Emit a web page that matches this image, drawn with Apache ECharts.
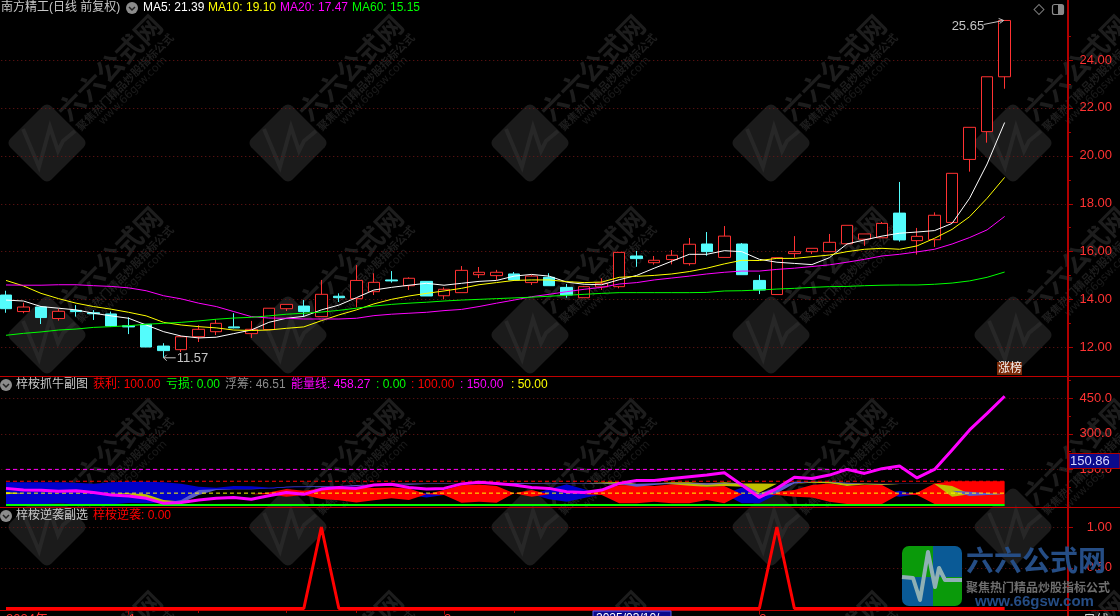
<!DOCTYPE html>
<html><head><meta charset="utf-8">
<style>html,body{margin:0;padding:0;background:#000;overflow:hidden}#c{width:1120px;height:616px}</style>
<script src="https://cdn.jsdelivr.net/npm/echarts@6/dist/echarts.min.js"></script>
</head><body><div id="c"></div>
<script>
const dates=['2024/12/23','2024/12/24','2024/12/25','2024/12/26','2024/12/27','2024/12/30','2024/12/31',
'2025/01/02','2025/01/03','2025/01/06','2025/01/07','2025/01/08','2025/01/09','2025/01/10','2025/01/13','2025/01/14','2025/01/15','2025/01/16','2025/01/17','2025/01/20','2025/01/21','2025/01/22','2025/01/23','2025/01/24','2025/01/27',
'2025/02/05','2025/02/06','2025/02/07','2025/02/10','2025/02/11','2025/02/12','2025/02/13','2025/02/14','2025/02/17','2025/02/18','2025/02/19','2025/02/20','2025/02/21','2025/02/24','2025/02/25','2025/02/26','2025/02/27','2025/02/28',
'2025/03/03','2025/03/04','2025/03/05','2025/03/06','2025/03/07','2025/03/10','2025/03/11','2025/03/12','2025/03/13','2025/03/14','2025/03/17','2025/03/18','2025/03/19','2025/03/20','2025/03/21'];
const blankSlots=[' ','  ','   '];
const xLabelAt=[0,7,25,43];
const xLabelText=['2024年','1','2','3'];
const xMinorAt=[11,16,20,29];
// [open, close, low, high]
const candles=[
[14.19,13.62,13.45,14.37],[13.50,13.69,13.43,13.87],[13.69,13.25,12.98,13.69],[13.21,13.51,13.12,13.62],
[13.55,13.50,13.29,13.77],[13.45,13.41,13.15,13.56],[13.40,12.90,12.87,13.50],[12.91,12.86,12.56,13.26],
[12.97,12.02,12.02,12.97],[12.06,11.87,11.57,12.18],[11.91,12.45,11.81,12.48],[12.45,12.76,12.23,12.93],
[12.66,13.01,12.52,13.18],[12.86,12.82,12.80,13.43],[12.58,12.76,12.40,13.11],[12.75,13.64,12.75,13.64],
[13.62,13.80,13.52,13.80],[13.73,13.50,13.29,13.98],[13.29,14.22,13.29,14.82],[14.14,14.08,13.90,14.26],
[14.04,14.80,13.68,15.44],[14.33,14.72,14.19,15.10],[14.82,14.78,14.71,15.19],[14.58,14.89,14.40,14.93],
[14.76,14.15,14.15,14.76],[14.16,14.43,14.01,14.51],[14.29,15.22,14.29,15.40],[15.04,15.14,14.90,15.36],
[15.00,15.14,14.82,15.24],[15.07,14.82,14.82,15.15],[14.71,14.98,14.61,15.03],[14.93,14.58,14.58,15.10],
[14.51,14.19,14.08,14.65],[14.08,14.54,14.08,14.57],[14.53,14.68,14.40,14.89],[14.54,15.97,14.47,15.97],
[15.82,15.71,15.37,16.03],[15.54,15.64,15.46,15.82],[15.67,15.85,15.47,16.07],[15.50,16.31,15.42,16.57],
[16.32,16.00,15.83,16.82],[15.76,16.65,15.76,17.07],[16.32,15.04,15.04,16.36],[14.80,14.40,14.23,15.03],
[14.21,15.75,14.21,15.75],[15.92,16.00,15.74,16.65],[16.00,16.14,15.90,16.14],[16.00,16.39,16.00,16.74],
[16.33,17.10,16.33,17.10],[16.52,16.74,16.24,16.74],[16.58,17.18,16.58,17.24],[17.61,16.49,16.42,18.91],
[16.46,16.64,15.88,16.99],[16.50,17.52,16.20,17.64],[17.22,19.27,17.22,19.27],[19.85,21.19,19.34,21.19],
[21.01,23.30,20.55,23.30],[23.30,25.65,22.80,25.65]];
const ma5=[13.98,13.94,13.71,13.64,13.57,13.43,13.32,13.22,12.94,12.66,12.48,12.40,12.43,12.58,12.73,13.05,13.22,13.30,13.57,13.77,14.08,
14.40,14.51,14.60,14.68,14.60,14.68,14.76,14.80,14.98,15.05,14.98,14.73,14.64,14.62,14.83,15.01,15.31,15.60,15.89,15.89,16.04,
16.00,15.68,15.56,15.51,15.46,15.75,16.32,16.49,16.65,16.77,16.82,16.88,17.18,18.23,19.66,21.39];
const ma10=[14.80,14.57,14.26,14.04,13.85,13.71,13.60,13.47,13.32,13.05,12.94,12.87,12.82,12.73,12.71,12.73,12.80,12.86,13.12,13.36,13.57,
13.82,14.01,14.15,14.26,14.36,14.47,14.62,14.71,14.80,14.82,14.82,14.75,14.71,14.73,14.93,14.97,15.01,15.07,15.17,15.31,15.49,
15.64,15.63,15.72,15.72,15.79,15.86,16.00,16.10,16.14,16.10,16.24,16.56,16.93,17.46,18.23,19.10];
const ma20=[14.61,14.60,14.60,14.62,14.62,14.58,14.55,14.49,14.37,14.16,14.03,13.85,13.71,13.50,13.29,13.23,13.22,13.19,13.19,13.19,13.22,
13.33,13.39,13.43,13.47,13.54,13.59,13.71,13.85,13.98,14.12,14.22,14.33,14.43,14.51,14.65,14.71,14.82,14.90,14.98,15.07,15.14,
15.19,15.19,15.26,15.31,15.38,15.45,15.56,15.68,15.82,15.89,15.99,16.10,16.32,16.59,16.91,17.47];
const ma60=[12.51,12.59,12.65,12.73,12.77,12.84,12.87,12.91,12.97,13.01,13.05,13.11,13.18,13.23,13.26,13.32,13.39,13.43,13.48,13.55,13.64,
13.73,13.80,13.85,13.89,13.94,13.98,14.01,14.04,14.07,14.10,14.14,14.18,14.22,14.26,14.29,14.29,14.29,14.29,14.29,14.30,14.36,
14.37,14.40,14.44,14.47,14.51,14.54,14.55,14.58,14.60,14.61,14.61,14.64,14.69,14.78,14.93,15.15];
const energy=[70,63,62,58,60,53,42,38,28,7,11,21,28,32,24,39,53,45,67,74,70,84,
87,74,67,70,89,96,91,84,74,70,56,53,63,91,103,103,112,119,126,136,
84,32,70,117,112,126,150,133,153,164,114,150,232,316,386,458];
const blueLo=[3,3,3,7,3,3,3,8,7,8,14,63,63,66,66,70,74,75,76,76,78,80,85,42,32,42,42,42,42,42,45,24,14,30,45,45,45,45,45,45,45,45,7,7,45,45,45,45,45,45,45,35,45,45,45,45,45,45];
const blueHi=[96,96,96,96,94,90,96,98,98,96,90,77,73,80,79,74,77,77,78,78,80,82,85,42,52,42,42,42,42,42,45,66,87,66,45,45,45,45,45,45,45,45,74,45,45,45,45,45,45,45,45,60,45,45,45,45,45,45];
const redLo=[45,45,45,45,45,45,45,45,45,45,45,45,45,45,45,45,35,42,25,20,11,20,28,21,45,42,10,14,10,49,35,45,45,45,42,7,7,14,7,7,21,7,45,45,42,35,32,14,4,4,4,45,42,4,4,4,4,4];
const redHi=[45,45,45,45,45,45,45,45,45,45,45,45,45,45,45,53,67,60,70,73,77,72,74,70,45,63,83,86,80,49,63,45,45,45,63,83,84,80,87,87,77,80,45,45,56,63,84,91,80,84,84,45,52,91,100,100,100,100];
const oliveLo=[45,50,50,50,50,50,50,45,25,11,15,15,15,15,15,15,15,15,15,15,15,15,15,15,15,15,15,15,15,15,15,15,15,91,91,84,91,91,87,81,77,80,77,52,90,90,94,92,80,86,84,88,88,88,35,45,42,45];
const oliveHi=[55,50,50,50,50,50,50,49,45,21,15,15,15,15,15,15,15,15,15,15,15,15,15,15,15,15,15,15,15,15,15,15,15,91,95,97,91,91,96,96,91,96,91,91,90,90,98,98,91,91,88,88,88,90,80,46,47,46];
const slateLo=[10,10,10,10,10,10,10,10,10,8,7,42,63,66,66,68,75,77,77,78,80,84,88,85,88,88,89,91,88,88,90,90,90,90,90,88,77,84,90,90,85,90,90,32,49,91,97,97,90,88,87,88,88,89,60,38,42,38];
const slateHi=[10,10,10,10,10,10,10,10,10,8,21,63,66,67,67,70,77,79,80,80,84,86,91,91,91,91,91,93,93,93,93,92,92,92,92,92,90,92,92,92,92,92,92,49,74,98,98,98,94,90,89,90,90,90,60,56,49,46];
const level0=[0,0,0,0,0,0,0,0,0,0,0,0,0,0,0,0,0,0,0,0,0,0,0,0,0,0,0,0,0,0,0,0,0,0,0,0,0,0,0,0,0,0,0,0,0,0,0,0,0,0,0,0,0,0,0,0,0,0];
const level100=[100,100,100,100,100,100,100,100,100,100,100,100,100,100,100,100,100,100,100,100,100,100,100,100,100,100,100,100,100,100,100,100,100,100,100,100,100,100,100,100,100,100,100,100,100,100,100,100,100,100,100,100,100,100,100,100,100,100];
const level150=[150,150,150,150,150,150,150,150,150,150,150,150,150,150,150,150,150,150,150,150,150,150,150,150,150,150,150,150,150,150,150,150,150,150,150,150,150,150,150,150,150,150,150,150,150,150,150,150,150,150,150,150,150,150,150,150,150,150];
const level50=[50,50,50,50,50,50,50,50,50,50,50,50,50,50,50,50,50,50,50,50,50,50,50,50,50,50,50,50,50,50,50,50,50,50,50,50,50,50,50,50,50,50,50,50,50,50,50,50,50,50,50,50,50,50,50,50,50,50];
const reversal=[0,0,0,0,0,0,0,0,0,0,0,0,0,0,0,0,0,0,1,0,0,0,0,0,0,0,0,0,0,0,0,0,0,0,0,0,0,0,0,0,0,0,0,0,1,0,0,0,0,0,0,0,0,0,0,0,0,0];
const priceTicks=[12,14,16,18,20,22,24];
const priceMinor=[13,15,17,19,21,23,25];
const energyTicks=[150,300,450];
const energyMinor=[75,225,375,525];
const signalTicks=[0.5,1];

const RED='#ff3232',CYAN='#54fcfc',AXIS='#b00000',GRIDC='#701616';
const F='"Liberation Sans","Noto Sans CJK SC",sans-serif';
const xCats=dates.concat(blankSlots);
const gridL=-2.76,gridW=1068.72;
const chart=echarts.init(document.getElementById('c'),null,{renderer:'canvas'});

function xAxis(g,extra){return Object.assign({type:'category',data:xCats,gridIndex:g,boundaryGap:true,show:false},extra||{});}
function yAxis(g,min,max,ticks,dec){return {type:'value',gridIndex:g,position:'right',offset:2,min,max,scale:true,
 axisLine:{show:false},axisTick:{show:true,length:5,customValues:ticks,lineStyle:{color:AXIS}},
 axisLabel:{show:true,customValues:ticks,align:'right',margin:44,color:RED,fontSize:13,fontFamily:F,formatter:v=>v.toFixed(dec)},
 splitLine:{show:true,lineStyle:{color:GRIDC,type:[1,3],width:1}}};}
function yMinor(g,min,max,ticks){return {type:'value',gridIndex:g,position:'right',offset:2,min,max,scale:true,show:true,
 axisLine:{show:false},axisLabel:{show:false},splitLine:{show:false},
 axisTick:{show:true,length:3,customValues:ticks,lineStyle:{color:AXIS}}};}
function band(name,lo,hi,color){
 return [{type:'line',name:name+'base',xAxisIndex:1,yAxisIndex:1,stack:name,data:lo,showSymbol:false,silent:true,lineStyle:{width:0,opacity:0},z:3},
 {type:'line',name:name,xAxisIndex:1,yAxisIndex:1,stack:name,data:hi.map((h,i)=>h-lo[i]),showSymbol:false,silent:true,lineStyle:{width:0,opacity:0},areaStyle:{color,opacity:1},z:3}];}
function maLine(name,data,color){return {type:'line',name,xAxisIndex:0,yAxisIndex:0,data,showSymbol:false,silent:true,lineStyle:{color,width:1},z:5};}
function level(data,color,w,t){return {type:'line',xAxisIndex:1,yAxisIndex:1,data,showSymbol:false,silent:true,lineStyle:{color,width:w,type:t},z:6};}
const gridBase={left:gridL,width:gridW,outerBoundsMode:'none',containLabel:false};

chart.setOption({animation:false,backgroundColor:'#000',
 grid:[Object.assign({top:0,height:376.5},gridBase),Object.assign({top:377,height:130},gridBase),Object.assign({top:508,height:102},gridBase)],
 xAxis:[xAxis(0),xAxis(1),
  {type:'category',data:xCats,gridIndex:2,position:'bottom',axisLine:{show:false},
   axisTick:{show:true,length:6,alignWithLabel:true,interval:i=>xLabelAt.includes(i)&&i>0,lineStyle:{color:AXIS}},
   axisLabel:{show:true,interval:i=>xLabelAt.includes(i),align:'left',margin:3,color:RED,fontSize:13,fontFamily:F,hideOverlap:false,
    formatter:(v,i)=>xLabelText[xLabelAt.indexOf(i)]||''},splitLine:{show:false}},
  {type:'category',data:xCats,gridIndex:2,position:'bottom',axisLine:{show:false},axisLabel:{show:false},splitLine:{show:false},
   axisTick:{show:true,length:3,alignWithLabel:true,interval:i=>xMinorAt.includes(i),lineStyle:{color:AXIS}}}],
 yAxis:[yAxis(0,10.79,26.504,priceTicks,2),yAxis(1,-8.4,539,energyTicks,1),yAxis(2,-0.018,1.233,signalTicks,2),
  yMinor(0,10.79,26.504,priceMinor),yMinor(1,-8.4,539,energyMinor)],
 series:[
  {type:'candlestick',name:'K',xAxisIndex:0,yAxisIndex:0,data:candles,barWidth:12,silent:true,z:4,
   itemStyle:{color:'#000',color0:CYAN,borderColor:RED,borderColor0:CYAN,borderWidth:1}},
  maLine('MA5',ma5,'#ffffff'),maLine('MA10',ma10,'#ffff00'),maLine('MA20',ma20,'#ff00ff'),maLine('MA60',ma60,'#00ff00'),
  ...band('blue',blueLo,blueHi,'#0000cc'),
  ...band('red',redLo,redHi,'#ff0000'),
  ...band('olive',oliveLo,oliveHi,'#c0c000'),
  ...band('slate',slateLo,slateHi,'#5a5acd'),
  level(level100,'#ff0000',1,[4,3]),level(level150,'#ff00ff',1,[4,3]),level(level50,'#ffff00',1,[4,3]),level(level0,'#00ff00',2,'solid'),
  {type:'line',name:'能量线',xAxisIndex:1,yAxisIndex:1,data:energy,showSymbol:false,silent:true,lineStyle:{color:'#ff00ff',width:3},z:7},
  {type:'line',name:'梓桉逆袭',xAxisIndex:2,yAxisIndex:2,data:reversal,showSymbol:false,silent:true,lineStyle:{color:'#ff0000',width:3},z:7}
 ]});

const g=[];
const Z_BACK=-5,Z_TOP=50;
const wmX=[47,288,530,771,1013],wmY=[143,335,527,719];
wmY.forEach(cy=>wmX.forEach(cx=>{
 g.push({type:'group',x:cx,y:cy,rotation:Math.PI/4,silent:true,children:[
  {type:'rect',z:Z_BACK,shape:{x:-29,y:-29,width:58,height:58,r:6},style:{fill:'#1b1b1b'}},
  {type:'text',z:Z_BACK,x:30,y:-9,style:{text:'六六公式网',fill:'#1d1d1d',font:'bold 27px "Noto Sans CJK SC"',verticalAlign:'middle'}},
  {type:'text',z:Z_BACK,x:32,y:12,style:{text:'聚焦热门精品炒股指标公式',fill:'#1e1e1e',font:'bold 11px "Noto Sans CJK SC"',verticalAlign:'middle'}},
  {type:'text',z:Z_BACK,x:52,y:24,style:{text:'www.66gsw.com',fill:'#1b1b1b',font:'11px "DejaVu Sans"',verticalAlign:'middle'}}
 ]});
 g.push({type:'polyline',x:cx,y:cy,silent:true,z:Z_BACK+1,shape:{points:[[-24,-14],[-8,24],[3,-16],[11,8],[16,-2],[28,-12]]},style:{stroke:'#272727',fill:null,lineWidth:4,lineJoin:'miter'}});
}));
[[0,376.5,1120,376.5],[0,507.5,1120,507.5],[0,610.5,1120,610.5]].forEach(l=>g.push({type:'line',z:Z_TOP,silent:true,shape:{x1:l[0],y1:l[1],x2:l[2],y2:l[3]},style:{stroke:'#c00000',lineWidth:1}}));
g.push({type:'line',z:Z_TOP,silent:true,shape:{x1:1068,y1:0,x2:1068,y2:616},style:{stroke:AXIS,lineWidth:2}});
function txt(x,y,text,fill,size,extra){g.push({type:'text',z:Z_TOP,silent:true,x,y,style:Object.assign({text,fill,font:(size||12)+'px '+F,verticalAlign:'middle'},extra||{})});}
function foldIcon(x,y){
 g.push({type:'circle',z:Z_TOP,silent:true,shape:{cx:x,cy:y,r:6},style:{fill:'#8c8c8c'}});
 g.push({type:'polyline',z:Z_TOP+1,silent:true,shape:{points:[[x-3,y-1],[x,y+2],[x+3,y-1]]},style:{stroke:'#222',fill:null,lineWidth:1.5}});
}
txt(1,8,'南方精工(日线 前复权)','#c8c8c8',12);
foldIcon(132,8);
txt(143,8,'MA5: 21.39','#ffffff',12);
txt(208,8,'MA10: 19.10','#ffff00',12);
txt(280,8,'MA20: 17.47','#ff00ff',12);
txt(352,8,'MA60: 15.15','#00ff00',12);
foldIcon(6,385);
txt(16,385,'梓桉抓牛副图','#c8c8c8',12);
txt(93,385,'获利: 100.00','#ff0000',12);
txt(166,385,'亏损: 0.00','#00ff00',12);
txt(225,385,'浮筹: 46.51','#8c8c8c',12);
txt(291,385,'能量线: 458.27','#ff00ff',12);
txt(376,385,': 0.00','#00ff00',12);
txt(411,385,': 100.00','#ff0000',12);
txt(460,385,': 150.00','#ff00ff',12);
txt(511,385,': 50.00','#ffff00',12);
foldIcon(6,516);
txt(16,516,'梓桉逆袭副选','#c8c8c8',12);
txt(93,516,'梓桉逆袭: 0.00','#ff0000',12);
const pHi=chart.convertToPixel({xAxisIndex:0,yAxisIndex:0},[57,25.65]);
const pLo=chart.convertToPixel({xAxisIndex:0,yAxisIndex:0},[9,11.57]);
const AN='#c4c4c4';
txt(pHi[0]-53,pHi[1]+6,'25.65',AN,13);
g.push({type:'polyline',z:Z_TOP,silent:true,shape:{points:[[pHi[0]-21,pHi[1]+4],[pHi[0]-1,pHi[1]]]},style:{stroke:AN,fill:null,lineWidth:1}});
g.push({type:'polyline',z:Z_TOP,silent:true,shape:{points:[[pHi[0]-6,pHi[1]-2],[pHi[0]-1,pHi[1]],[pHi[0]-5,pHi[1]+3]]},style:{stroke:AN,fill:null,lineWidth:1}});
txt(pLo[0]+13,pLo[1]+1,'11.57',AN,13);
g.push({type:'polyline',z:Z_TOP,silent:true,shape:{points:[[pLo[0]+12,pLo[1]],[pLo[0],pLo[1]]]},style:{stroke:AN,fill:null,lineWidth:1}});
g.push({type:'polyline',z:Z_TOP,silent:true,shape:{points:[[pLo[0]+3,pLo[1]-3],[pLo[0],pLo[1]],[pLo[0]+3,pLo[1]+3]]},style:{stroke:AN,fill:null,lineWidth:1}});
g.push({type:'rect',z:Z_TOP,silent:true,shape:{x:997,y:362,width:25,height:13},style:{fill:'#7c2a08'}});
txt(998,368.5,'涨榜','#f4f4f4',12);
g.push({type:'rect',z:Z_TOP,silent:true,x:1039,y:9.5,rotation:Math.PI/4,shape:{x:-3.5,y:-3.5,width:7,height:7},style:{stroke:'#777',fill:null,lineWidth:1}});
g.push({type:'rect',z:Z_TOP,silent:true,shape:{x:1052.5,y:4.5,width:11,height:10,r:2},style:{stroke:'#888',fill:null,lineWidth:1.2}});
g.push({type:'rect',z:Z_TOP,silent:true,shape:{x:1058,y:5,width:5,height:9},style:{fill:'#888'}});
g.push({type:'rect',z:Z_TOP+1,silent:true,shape:{x:1069,y:453.5,width:51,height:15},style:{fill:'#0a0a8c',stroke:'#b00000',lineWidth:1}});
g.push({type:'text',z:Z_TOP+2,silent:true,x:1070,y:461,style:{text:'150.86',fill:'#d8d8ff',font:'13px '+F,verticalAlign:'middle'}});
g.push({type:'rect',z:Z_TOP,silent:true,shape:{x:593,y:611,width:78,height:10},style:{fill:'#0a0a8c',stroke:'#5a5af0',lineWidth:1}});
g.push({type:'text',z:Z_TOP+1,silent:true,x:596,y:619,style:{text:'2025/03/10/一',fill:'#ffffff',font:'12px '+F,verticalAlign:'middle'}});
txt(1083,620,'日线','#d8d8d8',13);
const Zl=Z_TOP+3;
g.push({type:'rect',z:Zl,silent:true,shape:{x:902,y:546,width:31,height:31,r:[7,0,0,0]},style:{fill:'#0a9a0a'}});
g.push({type:'rect',z:Zl,silent:true,shape:{x:933,y:546,width:29,height:31,r:[0,7,0,0]},style:{fill:'#0a5a96'}});
g.push({type:'rect',z:Zl,silent:true,shape:{x:902,y:577,width:31,height:29,r:[0,0,0,7]},style:{fill:'#0a5a96'}});
g.push({type:'rect',z:Zl,silent:true,shape:{x:933,y:577,width:29,height:29,r:[0,0,7,0]},style:{fill:'#0a9a0a'}});
g.push({type:'polyline',z:Zl+1,silent:true,shape:{points:[[902,577],[913,578],[920,600],[928,552],[935,587],[939,568],[945,580],[962,580]]},style:{stroke:'#8fb0b4',fill:null,lineWidth:4,lineJoin:'round'}});
g.push({type:'text',z:Zl,silent:true,x:966,y:560,style:{text:'六六公式网',fill:'#254d85',font:'bold 28px "Noto Sans CJK SC"',verticalAlign:'middle'}});
g.push({type:'text',z:Zl,silent:true,x:966,y:587,style:{text:'聚焦热门精品炒股指标公式',fill:'#6e6e6e',font:'bold 12px "Noto Sans CJK SC"',verticalAlign:'middle'}});
g.push({type:'text',z:Zl,silent:true,x:975,y:602,style:{text:'www.66gsw.com',fill:'#254d85',font:'bold 15px "Liberation Sans"',verticalAlign:'middle'}});
chart.setOption({graphic:g});
</script></body></html>
